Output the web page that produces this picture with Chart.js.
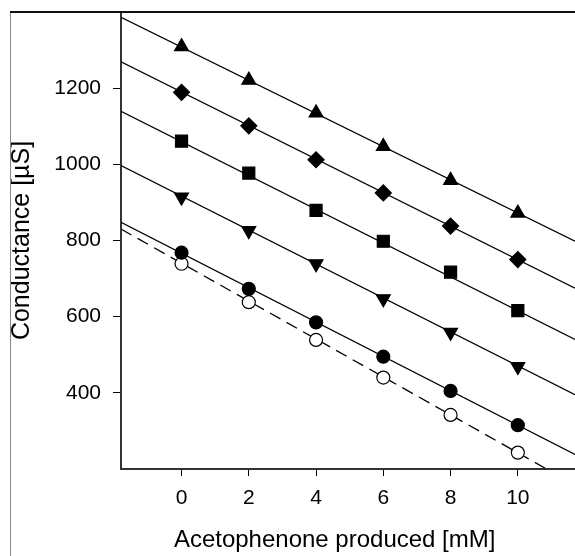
<!DOCTYPE html>
<html>
<head>
<meta charset="utf-8">
<script src="https://cdn.jsdelivr.net/npm/chart.js@4.4.1/dist/chart.umd.min.js"></script>
<style>
    html, body { margin: 0; padding: 0; background: #fff; }
    #wrap { width: 575px; height: 556px; position: relative; }
</style>
</head>
<body>
<div id="wrap"><canvas id="myChart"></canvas></div>
<script>
// Measured points (x = acetophenone produced, mM)
const concentration = [0, 2, 4, 6, 8, 10];
const triangleUp   = [1309, 1221, 1135, 1047, 958, 872];
const diamond      = [1189, 1101, 1012, 925, 838, 750];
const square       = [1061, 977, 879, 798, 717, 616];
const triangleDown = [914, 826, 739, 647, 559, 469];
const circleFilled = [768, 673, 585, 495, 405, 315];
const circleOpen   = [739, 638, 539, 440, 342, 243];

// Regression lines, read at both edges of the plot
const fitX = [-1.8, 11.7];
const fitTriangleUp   = [1386, 798];
const fitDiamond      = [1269, 675];
const fitSquare       = [1139, 540];
const fitTriangleDown = [997, 395];
const fitCircleFilled = [848, 238];
const fitCircleOpen   = [830, 158];

const xTicks = [0, 2, 4, 6, 8, 10];
const yTicks = [400, 600, 800, 1000, 1200];

const fontFamily = "'Liberation Sans', Arial, Helvetica, sans-serif";

function toPoints(xs, ys) {
    return xs.map((x, i) => ({ x: x, y: ys[i] }));
}

function markers(values, style, radius, fill, rotation) {
    return {
        data: toPoints(concentration, values),
        showLine: false,
        pointStyle: style,
        pointRadius: radius,
        pointHoverRadius: radius,
        pointRotation: rotation || 0,
        backgroundColor: fill,
        borderColor: '#000',
        pointBorderWidth: 1.2,
        order: 0
    };
}

function fitLine(values, dash) {
    return {
        data: toPoints(fitX, values),
        showLine: true,
        borderColor: '#000',
        borderWidth: 1.3,
        borderDash: dash || [],
        pointRadius: 0,
        fill: false,
        order: 1
    };
}

// outer frame of the figure (left and top lines)
const framePlugin = {
    id: 'frame',
    afterDraw(chart) {
        const ctx = chart.ctx;
        const top = chart.chartArea.top;
        ctx.save();
        ctx.strokeStyle = '#888';
        ctx.lineWidth = 1;
        ctx.beginPath();
        ctx.moveTo(10.5, top);
        ctx.lineTo(10.5, chart.height);
        ctx.stroke();
        ctx.strokeStyle = '#111';
        ctx.lineWidth = 2;
        ctx.beginPath();
        ctx.moveTo(10, top);
        ctx.lineTo(chart.width, top);
        ctx.stroke();
        ctx.restore();
    }
};

const ctx = document.getElementById('myChart').getContext('2d');
const myChart = new Chart(ctx, {
    type: 'scatter',
    data: {
        datasets: [
            markers(triangleUp, 'triangle', 8, '#000'),
            markers(diamond, 'rectRot', 8, '#000'),
            markers(square, 'rect', 8.5, '#000'),
            markers(triangleDown, 'triangle', 8, '#000', 180),
            markers(circleFilled, 'circle', 6.5, '#000'),
            markers(circleOpen, 'circle', 6.5, '#fff'),
            fitLine(fitTriangleUp),
            fitLine(fitDiamond),
            fitLine(fitSquare),
            fitLine(fitTriangleDown),
            fitLine(fitCircleFilled),
            fitLine(fitCircleOpen, [12, 7])
        ]
    },
    options: {
        responsive: true,
        maintainAspectRatio: false,
        animation: false,
        layout: { autoPadding: false, padding: { left: 0, top: 12, right: 0, bottom: 0 } },
        plugins: {
            legend: { display: false },
            tooltip: { enabled: false }
        },
        scales: {
            x: {
                type: 'linear',
                min: fitX[0],
                max: fitX[1],
                afterBuildTicks: (scale) => { scale.ticks = xTicks.map(v => ({ value: v })); },
                afterFit: (scale) => {
                    scale.height = 87;
                    scale.paddingLeft = 0;
                    scale.paddingRight = 0;
                },
                grid: { drawOnChartArea: false, drawTicks: true, tickLength: 7, color: '#000', lineWidth: 1 },
                border: { display: true, color: '#333', width: 2 },
                ticks: {
                    color: '#000',
                    padding: 10,
                    font: { family: fontFamily, size: 21 },
                    maxRotation: 0,
                    callback: (v) => String(v)
                },
                title: {
                    display: true,
                    text: 'Acetophenone produced [mM]\u00a0\u00a0\u00a0\u00a0',
                    color: '#000',
                    font: { family: fontFamily, size: 24 },
                    padding: { top: 0, bottom: 1 }
                }
            },
            y: {
                type: 'linear',
                min: 200,
                max: 1400,
                afterBuildTicks: (scale) => { scale.ticks = yTicks.map(v => ({ value: v })); },
                afterFit: (scale) => {
                    scale.width = 121;
                    scale.paddingTop = 0;
                    scale.paddingBottom = 0;
                },
                grid: { drawOnChartArea: false, drawTicks: true, tickLength: 8, color: '#000', lineWidth: 1 },
                border: { display: true, color: '#333', width: 2 },
                ticks: {
                    color: '#000',
                    padding: 12,
                    font: { family: fontFamily, size: 21 },
                    callback: (v) => String(v)
                },
                title: {
                    display: true,
                    text: 'Conductance [µS]',
                    color: '#000',
                    font: { family: fontFamily, size: 25 },
                    padding: { top: 7, bottom: 0 }
                }
            }
        }
    },
    plugins: [framePlugin]
});
</script>
</body>
</html>
